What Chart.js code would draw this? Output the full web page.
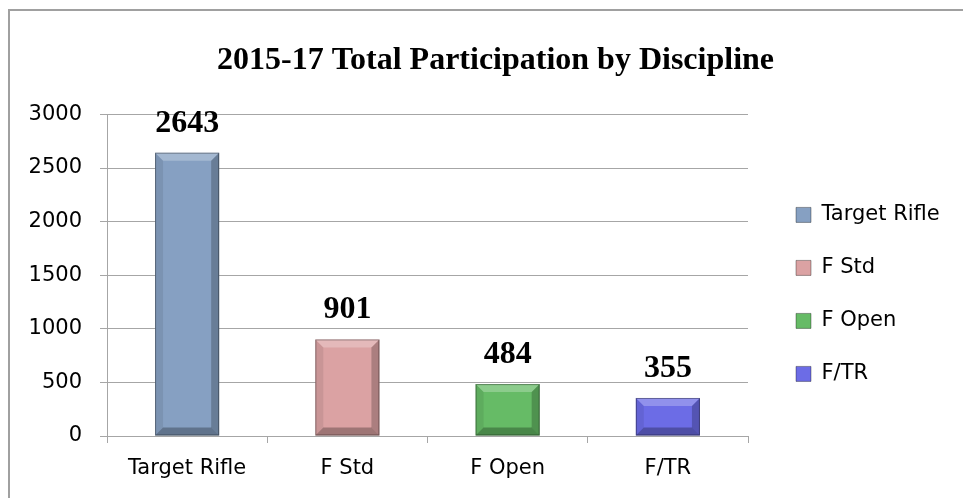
<!DOCTYPE html>
<html><head><meta charset="utf-8">
<script src="https://cdn.jsdelivr.net/npm/chart.js@4.4.0/dist/chart.umd.min.js"></script>
<style>
html,body{margin:0;padding:0;background:#fff;overflow:hidden}
#wrap{position:relative;width:963px;height:498px}
#frame{position:absolute;left:8px;top:9px;width:990px;height:600px;border-left:2px solid #a0a0a0;border-top:2px solid #a0a0a0;pointer-events:none}
canvas{position:absolute;left:0;top:0}
</style></head><body>
<div id="wrap"><canvas id="c" width="963" height="498"></canvas><div id="frame"></div></div>
<script>
const categories = ['Target Rifle', 'F Std', 'F Open', 'F/TR'];
const participation = [2643, 901, 484, 355];
const yTickValues = [0, 500, 1000, 1500, 2000, 2500, 3000];
const titleText = '2015-17 Total Participation by Discipline';
const barColors = ['#86a0c2', '#dba2a3', '#66bb66', '#6c6ce6'];

const sansFont = '"DejaVu Sans", sans-serif';
const serifFont = '"Liberation Serif", "Times New Roman", serif';
const gridColor = '#a6a6a6';

const bevelPlugin = {
  id: 'bevel',
  afterDatasetsDraw(chart) {
    const ctx = chart.ctx;
    const meta = chart.getDatasetMeta(0);
    ctx.save();
    meta.data.forEach((bar) => {
      const l = bar.x - bar.width / 2, r = bar.x + bar.width / 2;
      const t = bar.y, b = bar.base;
      const s = Math.min(8, (b - t) / 2);
      const poly = (pts, fill) => {
        ctx.beginPath();
        ctx.moveTo(pts[0][0], pts[0][1]);
        for (let i = 1; i < pts.length; i++) ctx.lineTo(pts[i][0], pts[i][1]);
        ctx.closePath();
        ctx.fillStyle = fill;
        ctx.fill();
      };
      poly([[l, t], [r, t], [r - s, t + s], [l + s, t + s]], 'rgba(255,255,255,0.25)');
      poly([[l, t], [l + s, t + s], [l + s, b - s], [l, b]], 'rgba(0,0,0,0.08)');
      poly([[r, t], [r, b], [r - s, b - s], [r - s, t + s]], 'rgba(0,0,0,0.22)');
      poly([[l, b], [r, b], [r - s, b - s], [l + s, b - s]], 'rgba(0,0,0,0.28)');
      ctx.strokeStyle = 'rgba(0,0,0,0.35)';
      ctx.lineWidth = 1;
      ctx.strokeRect(l + 0.5, t + 0.5, r - l - 1, b - t - 1);
    });
    ctx.restore();
  }
};

const valueLabelPlugin = {
  id: 'valueLabels',
  afterDatasetsDraw(chart) {
    const ctx = chart.ctx;
    const meta = chart.getDatasetMeta(0);
    ctx.save();
    ctx.font = 'bold 32px ' + serifFont;
    ctx.fillStyle = '#000';
    ctx.textAlign = 'center';
    ctx.textBaseline = 'alphabetic';
    meta.data.forEach((bar, i) => {
      ctx.fillText(String(participation[i]), bar.x, bar.y - 21);
    });
    ctx.restore();
  }
};

const legendPlacePlugin = {
  id: 'legendPlace',
  beforeInit(chart) {
    const legend = chart.legend;
    const origFit = legend.fit;
    legend.fit = function () {
      origFit.call(this);
      this.width = 215;
    };
  },
  afterLayout(chart) {
    const lg = chart.legend;
    const dx = 16;
    lg.left += dx; lg.right += dx;
    const h = lg.bottom - lg.top;
    lg.top = chart.chartArea.top + 58;
    lg.bottom = lg.top + h;
    const tb = chart.titleBlock;
    if (tb) { tb.left += 14; tb.right += 14; }
  }
};

new Chart(document.getElementById('c'), {
  type: 'bar',
  data: {
    labels: categories,
    datasets: [{
      label: 'Participation',
      data: participation,
      backgroundColor: barColors,
      borderWidth: 0,
      barPercentage: 0.4,
      categoryPercentage: 1.0
    }]
  },
  options: {
    responsive: false,
    devicePixelRatio: 1,
    animation: false,
    layout: { padding: 0 },
    plugins: {
      tooltip: { enabled: false },
      title: {
        display: true,
        text: titleText,
        color: '#000',
        font: { family: serifFont, size: 32, weight: 'bold' },
        padding: { top: 42, bottom: 34 }
      },
      legend: {
        display: true,
        position: 'right',
        align: 'start',
        labels: {
          boxWidth: 15,
          boxHeight: 15,
          padding: 32,
          color: '#000',
          font: { family: sansFont, size: 21 },
          generateLabels() {
            return categories.map((c, i) => ({
              text: c,
              fillStyle: barColors[i],
              strokeStyle: 'rgba(0,0,0,0.35)',
              lineWidth: 1,
              index: i,
              hidden: false
            }));
          }
        }
      }
    },
    scales: {
      x: {
        offset: true,
        grid: { display: true, drawOnChartArea: false, drawTicks: true, tickLength: 7, color: gridColor, offset: true },
        border: { display: true, color: gridColor, width: 1 },
        ticks: { color: '#000', font: { family: sansFont, size: 21 }, padding: 13 },
        afterFit(s) { s.height = 62; }
      },
      y: {
        min: 0,
        max: 3000,
        afterBuildTicks(s) { s.ticks = yTickValues.map(v => ({ value: v })); },
        grid: { color: gridColor, tickLength: 7, drawTicks: true },
        border: { display: true, color: gridColor, width: 1 },
        ticks: { color: '#000', font: { family: sansFont, size: 21 }, padding: 18, callback: (v) => String(v) },
        afterFit(s) { s.width = 107; }
      }
    }
  },
  plugins: [legendPlacePlugin, bevelPlugin, valueLabelPlugin]
});
</script>
</body></html>
